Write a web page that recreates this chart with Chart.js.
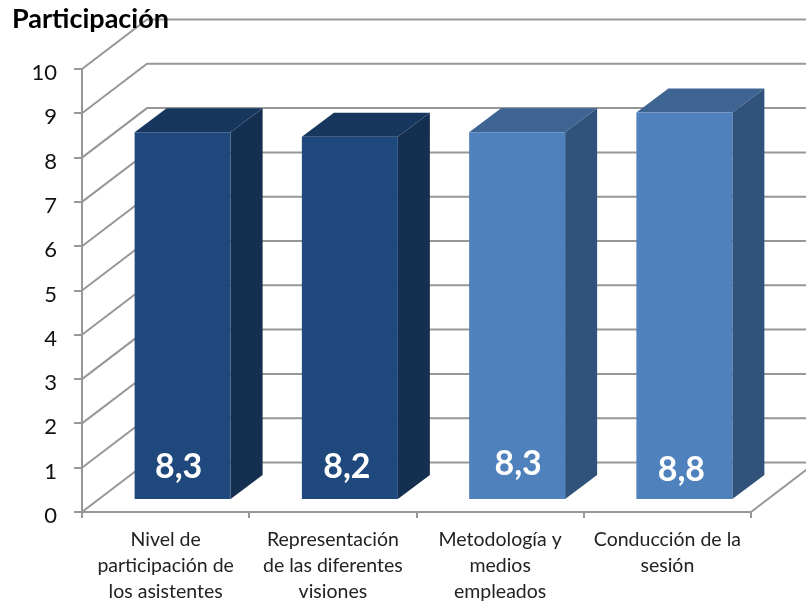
<!DOCTYPE html>
<html>
<head>
<meta charset="utf-8">
<title>Participación</title>
<script src="https://cdn.jsdelivr.net/npm/chart.js@4"></script>
<style>
  html, body { margin: 0; padding: 0; background: #fff; }
  canvas { display: block; }
</style>
</head>
<body>
<canvas id="grafico" width="806" height="603"></canvas>
<script>
const categorias = [
  ["Nivel de", "participación de", "los asistentes"],
  ["Representación", "de las diferentes", "visiones"],
  ["Metodología y", "medios", "empleados"],
  ["Conducción de la", "sesión"],
];
const valores = [8.3, 8.2, 8.3, 8.75];
const coloresFrente = ["#1F497D", "#1F497D", "#4F81BD", "#4F81BD"];
const coloresTecho = ["#17375E", "#17375E", "#3E6494", "#3E6494"];
const coloresLado = ["#152F50", "#152F50", "#30527B", "#30527B"];
// las etiquetas no van todas en el mismo sitio
const ajusteEtiquetaX = [-4, -3, 1, -3];
const ajusteEtiquetaY = [0, 0, -3, 3];

const FUENTE = "Lato, 'Noto Sans', sans-serif";
const GRIS = "#979797";

// profundidad del falso 3D, en pixeles
const pared = { dx: 65, dy: 49.5 };
const barra = { dx: 17, dy: 12, fondoX: 32, fondoY: 24 };

function poligono(ctx, puntos, color) {
  ctx.fillStyle = color;
  ctx.beginPath();
  puntos.forEach((p, i) => (i ? ctx.lineTo(p[0], p[1]) : ctx.moveTo(p[0], p[1])));
  ctx.closePath();
  ctx.fill();
}

const falso3D = {
  id: "falso3D",
  // paredes antes de que se pinte el titulo, que va por encima de la linea de arriba
  beforeDraw(chart) {
    const { ctx, scales: { x, y } } = chart;
    const izq = x.left, der = x.right;
    ctx.save();
    ctx.strokeStyle = GRIS;
    ctx.lineWidth = 2;
    y.ticks.forEach((t) => {
      const py = y.getPixelForValue(t.value);
      ctx.beginPath();
      ctx.moveTo(izq, py);
      ctx.lineTo(izq + pared.dx, py - pared.dy);
      ctx.lineTo(der + pared.dx, py - pared.dy);
      ctx.stroke();
    });
    const base = y.getPixelForValue(0);
    ctx.beginPath();
    ctx.moveTo(der, base);
    ctx.lineTo(der + pared.dx, base - pared.dy);
    ctx.stroke();
    ctx.restore();
  },
  beforeDatasetDraw(chart, args) {
    const ctx = chart.ctx;
    ctx.save();
    ctx.translate(barra.dx, -barra.dy);
    args.meta.data.forEach((b, i) => {
      const l = b.x - b.width / 2, r = b.x + b.width / 2;
      const fx = barra.fondoX, fy = barra.fondoY;
      poligono(ctx, [[l, b.y], [l + fx, b.y - fy], [r + fx, b.y - fy], [r, b.y]], coloresTecho[i]);
      poligono(ctx, [[r, b.y], [r + fx, b.y - fy], [r + fx, b.base - fy], [r, b.base]], coloresLado[i]);
    });
  },
  afterDatasetDraw(chart) {
    chart.ctx.restore();
  },
  afterDatasetsDraw(chart) {
    const ctx = chart.ctx;
    const meta = chart.getDatasetMeta(0);
    ctx.save();
    ctx.fillStyle = "#fff";
    ctx.font = "bold 34px " + FUENTE;
    ctx.textAlign = "center";
    ctx.textBaseline = "middle";
    meta.data.forEach((b, i) => {
      const txt = valores[i].toFixed(1).replace(".", ",");
      ctx.fillText(txt, b.x + barra.dx + ajusteEtiquetaX[i], b.base - barra.dy - 32 + ajusteEtiquetaY[i]);
    });
    ctx.restore();
  },
};

new Chart(document.getElementById("grafico"), {
  type: "bar",
  data: {
    labels: categorias,
    datasets: [
      {
        data: valores,
        backgroundColor: coloresFrente,
        barPercentage: 0.574,
        categoryPercentage: 1,
        clip: false,
      },
    ],
  },
  options: {
    responsive: false,
    animation: false,
    devicePixelRatio: 1,
    layout: { padding: { left: 12, right: 55, top: 0, bottom: 0 } },
    plugins: {
      legend: { display: false },
      tooltip: { enabled: false },
      title: {
        display: true,
        text: "Participación",
        align: "start",
        color: "#000",
        font: { family: FUENTE, size: 27, weight: "bold", lineHeight: 1.2 },
        padding: { top: 3, bottom: 33.6 },
      },
    },
    scales: {
      x: {
        afterFit(s) { s.height = 91; },
        border: { color: GRIS, width: 2 },
        grid: { drawOnChartArea: false, color: GRIS, lineWidth: 2, tickLength: 6 },
        ticks: {
          autoSkip: false,
          maxRotation: 0,
          color: "#222",
          padding: 9,
          font: { family: FUENTE, size: 19.5, lineHeight: 1.333 },
        },
      },
      y: {
        min: 0,
        max: 10,
        afterFit(s) { s.width = 70; },
        border: { color: GRIS, width: 2 },
        grid: { drawOnChartArea: false, color: GRIS, lineWidth: 2, tickLength: 8 },
        ticks: {
          stepSize: 1,
          color: "#111",
          padding: 17,
          // linea vacia delante: baja el numero unos pixeles respecto a la marca
          callback: (v) => ["", String(v)],
          font: { family: FUENTE, size: 22, lineHeight: "8px" },
        },
      },
    },
  },
  plugins: [falso3D],
});
</script>
</body>
</html>
